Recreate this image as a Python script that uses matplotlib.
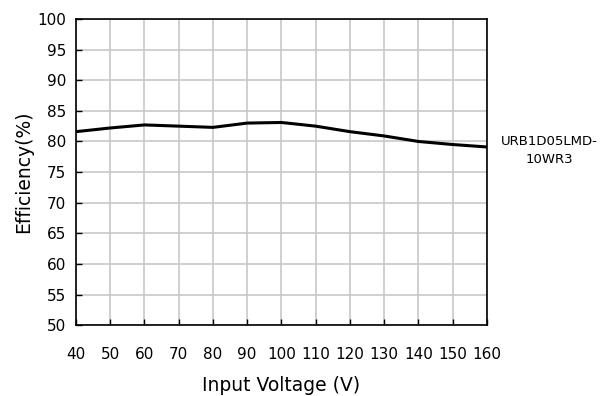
import matplotlib
matplotlib.use("Agg")
import matplotlib.pyplot as plt

# Input voltage vs efficiency
voltage = [40, 50, 60, 70, 80, 90, 100, 110, 120, 130, 140, 150, 160]
efficiency = [81.6, 82.2, 82.7, 82.5, 82.3, 83.0, 83.1, 82.5, 81.6, 80.9, 80.0, 79.5, 79.1]
xticks = list(range(40, 161, 10))
yticks = list(range(50, 101, 5))
series_name = "URB1D05LMD-\n10WR3"

fig = plt.figure(figsize=(6.14, 3.96), dpi=100)
ax = fig.add_axes([0.1238, 0.179, 0.669, 0.773])

ax.plot(voltage, efficiency, color='black', linewidth=2.2, solid_capstyle='butt')

ax.set_xlim(40, 160)
ax.set_ylim(50, 100)
ax.set_xticks(xticks)
ax.set_yticks(yticks)
ax.grid(True, color='#c8c8c8', linewidth=1.2)
ax.set_axisbelow(True)
ax.tick_params(direction='in', length=4, width=1, labelsize=11, color='black')
ax.tick_params(axis='x', pad=16)
ax.tick_params(axis='y', pad=7)
for s in ax.spines.values():
    s.set_linewidth(1.2)

ax.set_xlabel('Input Voltage (V)', fontsize=13.5, labelpad=10)
ax.set_ylabel('Efficiency(%)', fontsize=13.5, labelpad=3)

fig.text(0.895, 0.621, series_name, ha='center', va='center', fontsize=9.5, linespacing=1.5)

fig.savefig('out.png', dpi=100)
